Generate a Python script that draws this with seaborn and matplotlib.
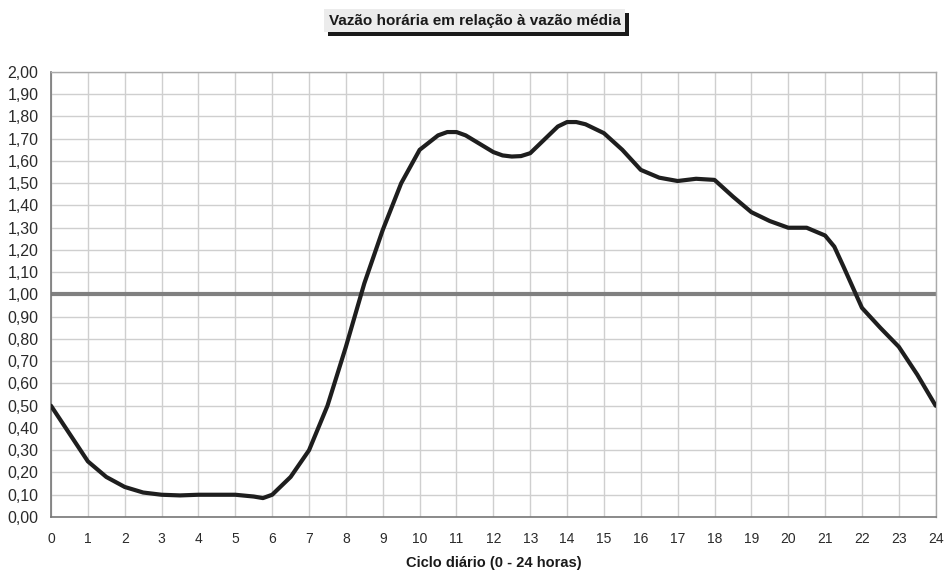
import pandas as pd
import seaborn as sns
import matplotlib
matplotlib.use("Agg")
import matplotlib.pyplot as plt
from matplotlib.ticker import FuncFormatter, MultipleLocator
from matplotlib import patheffects

# Data (mostly half-hour steps, extra points at bends)
hours = [0, 0.5, 1, 1.5, 2, 2.5, 3, 3.5, 4, 4.5, 5, 5.5, 5.75, 6, 6.5, 7, 7.5,
         8, 8.5, 9, 9.5, 10, 10.5, 10.75, 11, 11.25, 11.5, 12, 12.25, 12.5,
         12.75, 13, 13.5, 13.75, 14, 14.25, 14.5, 15, 15.5, 16, 16.5, 17, 17.5,
         18, 18.5, 19, 19.5, 20, 20.5, 21, 21.25, 21.5, 22, 22.5, 23, 23.5, 24]
ratio = [0.50, 0.375, 0.25, 0.18, 0.135, 0.11, 0.10, 0.097, 0.10, 0.10, 0.10,
         0.092, 0.085, 0.10, 0.18, 0.30, 0.50, 0.765, 1.05, 1.29, 1.50, 1.65,
         1.715, 1.73, 1.73, 1.715, 1.69, 1.64, 1.625, 1.62, 1.622, 1.635, 1.715,
         1.755, 1.775, 1.775, 1.765, 1.725, 1.65, 1.56, 1.525, 1.51, 1.52,
         1.515, 1.44, 1.37, 1.33, 1.30, 1.30, 1.265, 1.215, 1.125, 0.94, 0.85,
         0.765, 0.64, 0.50]
mean_level = 1.0

title = "Vazão horária em relação à vazão média"
xlabel = "Ciclo diário (0 - 24 horas)"

df = pd.DataFrame({"hora": hours, "vazao": ratio})

sns.set_style("white")
plt.rcParams["font.family"] = ["Liberation Sans", "DejaVu Sans"]

fig = plt.figure(figsize=(9.48, 5.74), dpi=100)
ax = fig.add_axes([0.0538, 0.0993, 0.9332, 0.7753])

# mean flow reference line
ax.axhline(mean_level, color="#808080", lw=3, zorder=2)
sns.lineplot(data=df, x="hora", y="vazao", ax=ax, color="#1e1e1e", lw=3,
             zorder=3, solid_joinstyle="round", solid_capstyle="round")

ax.set_xlim(0, 24)
ax.set_ylim(0, 2.0)
ax.xaxis.set_major_locator(MultipleLocator(1))
ax.yaxis.set_major_locator(MultipleLocator(0.1))
ax.yaxis.set_major_formatter(FuncFormatter(lambda v, p: f"{v:.2f}".replace(".", ",")))
ax.grid(True, color="#cfcfcf", lw=1)
ax.tick_params(axis="y", labelsize=11.5, labelcolor="#2a2a2a", length=0, pad=9)
ax.tick_params(axis="x", labelsize=10, labelcolor="#2a2a2a", length=0, pad=11)

for side in ["left", "bottom"]:
    ax.spines[side].set_color("#777777")
    ax.spines[side].set_linewidth(1.2)
for side in ["top", "right"]:
    ax.spines[side].set_color("#aaaaaa")
    ax.spines[side].set_linewidth(1)

ax.set_xlabel(xlabel, fontsize=10.5, fontweight="bold", color="#1a1a1a", labelpad=7)
ax.set_ylabel("")

# title box with a dark drop shadow
t = fig.text(0.501, 0.964, title, ha="center", va="center",
             fontsize=11, fontweight="bold", color="#1a1a1a",
             bbox=dict(boxstyle="square,pad=0.3", facecolor="#ececec", edgecolor="none"))
t.get_bbox_patch().set_path_effects([
    patheffects.withSimplePatchShadow(offset=(2.5, -2.5), shadow_rgbFace="#1a1a1a", alpha=1),
])

fig.savefig("out.png", dpi=100)
